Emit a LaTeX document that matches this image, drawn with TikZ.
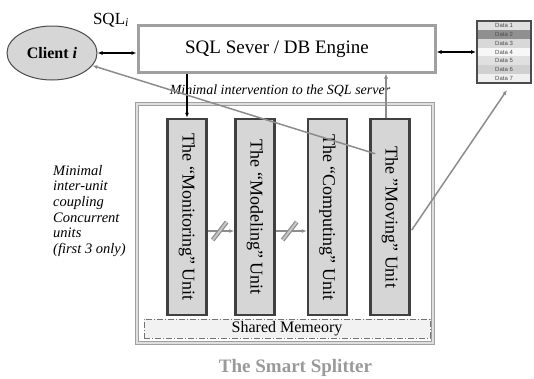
\documentclass[tikz,border=0pt]{standalone}
\usepackage{fontspec}
\setmainfont{Liberation Serif}
\setsansfont{Liberation Sans}
\usetikzlibrary{arrows.meta,calc,fit,shapes.geometric}
\definecolor{boxgray}{HTML}{A0A0A0}
\definecolor{unitfill}{HTML}{D6D6D6}
\definecolor{unitdraw}{HTML}{404040}
\definecolor{linkgray}{HTML}{8C8C8C}
\definecolor{titlegray}{HTML}{9A9A9A}
\begin{document}
\begin{tikzpicture}[x=1pt,y=-1pt,
  fs/.style={font=\fontsize{#1}{#1}\selectfont},
  unitbox/.style={draw=unitdraw,fill=unitfill,line width=2.5pt,minimum width=39pt,minimum height=196pt,inner sep=0pt},
  unittext/.style={rotate=-90,fs=18,inner sep=0pt},
  blackarrow/.style={draw=black,line width=1.5pt,-{Latex[length=5pt,width=4pt]}},
  bothblack/.style={draw=black,line width=1.5pt,{Latex[length=5pt,width=4pt]}-{Latex[length=5pt,width=4pt]}},
  grayarrow/.style={draw=linkgray,line width=1.5pt,-{Latex[length=5pt,width=4pt]}},
  hatch/.style={draw=linkgray,line width=1.2pt,double=gray!45,double distance=2pt},
  datarow/.style={minimum width=54pt,minimum height=8.86pt,inner sep=0pt,font=\sffamily\fontsize{6}{6}\selectfont,text=black!70},
]
\useasboundingbox (0,0) rectangle (534,378);

% client
\node[ellipse,draw=black!70,fill=unitfill,line width=1pt,minimum width=90pt,minimum height=54pt,inner sep=0pt,fs=16] (client) at (52,53) {\textbf{Client \textit{i}}};
\node[fs=17,anchor=center] (sqli) at (111,20) {SQL\textsubscript{\itshape i}};

% server
\node[draw=boxgray,line width=3pt,minimum width=297pt,minimum height=47pt,inner sep=0pt] (server) at (286.5,48.5) {};
\node[fs=19] (servertext) at (277,49) {SQL Sever / DB Engine};

% data table
\foreach \k/\c in {1/E0E0E0,2/909090,3/D8D8D8,4/F7F7F7,5/E0E0E0,6/D0D0D0,7/F0F0F0}{
  \definecolor{rowc}{HTML}{\c}
  \node[datarow,fill=rowc] (d\k) at (504,{21+8.86*(\k-0.5)}) {Data \k};
}
\node[fit=(d1)(d7),draw=black!70,line width=1.5pt,inner sep=0pt] (tbl) {};

% outer splitter box
\node[draw=boxgray,line width=1pt,double=gray!25,double distance=1.5pt,minimum width=296pt,minimum height=239pt,inner sep=0pt] (splitter) at (285,223.5) {};
\node[font=\itshape\fontsize{14}{14}\selectfont] (minint) at (280,91) {Minimal intervention to the SQL server};

% units
\node[unitbox] (u1) at (187,217) {};
\node[unitbox] (u2) at (255,217) {};
\node[unitbox] (u3) at (327.5,217) {};
\node[unitbox] (u4) at (390,217) {};
\node[unittext] (t1) at (u1) {The “Monitoring” Unit};
\node[unittext] (t2) at (u2) {The “Modeling” Unit};
\node[unittext] (t3) at (u3) {The “Computing” Unit};
\node[unittext] (t4) at (u4) {The "Moving" Unit};

% shared memory
\node[draw=black!55,line width=0.8pt,dash pattern=on 6pt off 2pt on 1pt off 2pt,fill=black!5,minimum width=286pt,minimum height=19pt,inner sep=0pt,fs=16] (shm) at (287,328.5) {Shared Memeory};

% left text
\node[anchor=north west,align=left,inner sep=0pt,font=\itshape\fontsize{14.5}{15.6}\selectfont] (lefttext) at (53,165) {Minimal\\inter-unit\\coupling\\Concurrent\\units\\(first 3 only)};

% title
\node[font=\bfseries\fontsize{19}{19}\selectfont,text=titlegray] (title) at (295.5,368) {The Smart Splitter};

% connectors
\draw[bothblack] (client.east) -- (client.east -| server.west);
\draw[bothblack] (tbl.west -| server.east) -- (tbl.west);
\draw[blackarrow] (u1.north |- server.south) -- (u1.north);
\coordinate (u4top) at ($(u4.north)+(-4,0)$);
\draw[grayarrow] (u4top) -- (u4top |- server.south);
\coordinate (u4in) at ($(u4.north west)+(6,36)$);
\draw[grayarrow] (u4in) -- (client);
\coordinate (u4out) at ($(u4.east)+(1,13)$);
\coordinate (tblend) at ($(tbl.south)+(3,6)$);
\draw[grayarrow] (u4out) -- (tblend);
\draw[grayarrow] ($(u1.east)+(0,14)$) coordinate (a1) -- ($(u2.west)+(0,14)$) coordinate (b1);
\draw[grayarrow] ($(u2.east)+(0,14)$) coordinate (a2) -- ($(u3.west)+(0,14)$) coordinate (b2);
\coordinate (m1) at ($(a1)!0.45!(b1)$);
\coordinate (m2) at ($(a2)!0.45!(b2)$);
\draw[hatch] ($(m1)+(-7,9)$) -- ($(m1)+(7,-9)$);
\draw[hatch] ($(m2)+(-7,9)$) -- ($(m2)+(7,-9)$);
\end{tikzpicture}
\end{document}
